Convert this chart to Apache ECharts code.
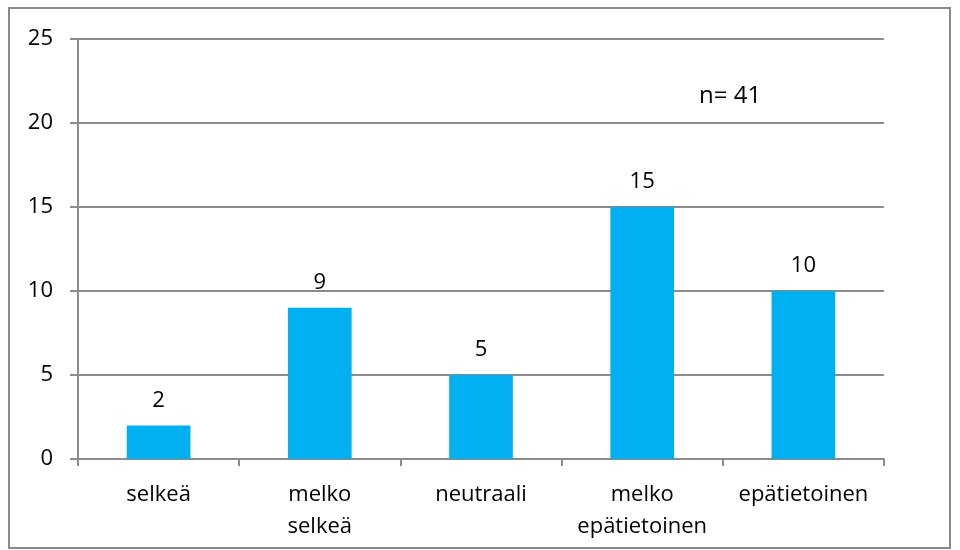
<!DOCTYPE html>
<html>
<head>
<meta charset="utf-8">
<script src="https://cdn.jsdelivr.net/npm/echarts@6/dist/echarts.min.js"></script>
<style>
  html, body { margin: 0; padding: 0; background: #fff; }
  #chart { width: 960px; height: 550px; }
</style>
</head>
<body>
<div id="chart"></div>
<script>
// 数据
const categories = ['selkeä', 'melko\nselkeä', 'neutraali', 'melko\nepätietoinen', 'epätietoinen'];
const counts = [2, 9, 5, 15, 10];
const yTicks = [0, 5, 10, 15, 20, 25];
const noteText = 'n= 41';

const FONT = '"Open Sans", sans-serif';
const GRAY = '#8c8c8c';

const chart = echarts.init(document.getElementById('chart'));
chart.setOption({
    animation: false,
    grid: { left: 78, right: 76, top: 39, bottom: 91 },
    graphic: [
        {
            type: 'rect',
            shape: { x: 9, y: 8, width: 941, height: 540 },
            style: { fill: 'none', stroke: '#8a8a8a', lineWidth: 2 }
        },
        {
            type: 'text',
            left: 699, top: 84,
            style: { text: noteText, font: '24px ' + FONT, fill: '#000' }
        }
    ],
    xAxis: {
        type: 'category',
        data: categories,
        axisLine: { lineStyle: { color: GRAY, width: 2 } },
        axisTick: { show: true, interval: 0, length: 7, lineStyle: { color: GRAY, width: 2 } },
        axisLabel: {
            interval: 0, hideOverlap: false,
            color: '#000', fontFamily: FONT, fontSize: 22, lineHeight: 32, margin: 20
        }
    },
    yAxis: {
        type: 'value',
        min: yTicks[0],
        max: yTicks[yTicks.length - 1],
        interval: 5,
        axisLine: { show: true, lineStyle: { color: GRAY, width: 2 } },
        axisTick: { show: true, length: 8, lineStyle: { color: GRAY, width: 2 } },
        splitLine: { lineStyle: { color: GRAY, width: 2 } },
        axisLabel: { color: '#000', fontFamily: FONT, fontSize: 22, margin: 25 }
    },
    series: [{
        type: 'bar',
        data: counts,
        barWidth: '39.5%',
        itemStyle: { color: '#00b0f0' },
        label: {
            show: true,
            position: 'top',
            distance: 14,
            color: '#000',
            fontFamily: FONT,
            fontSize: 22
        }
    }]
});
</script>
</body>
</html>
